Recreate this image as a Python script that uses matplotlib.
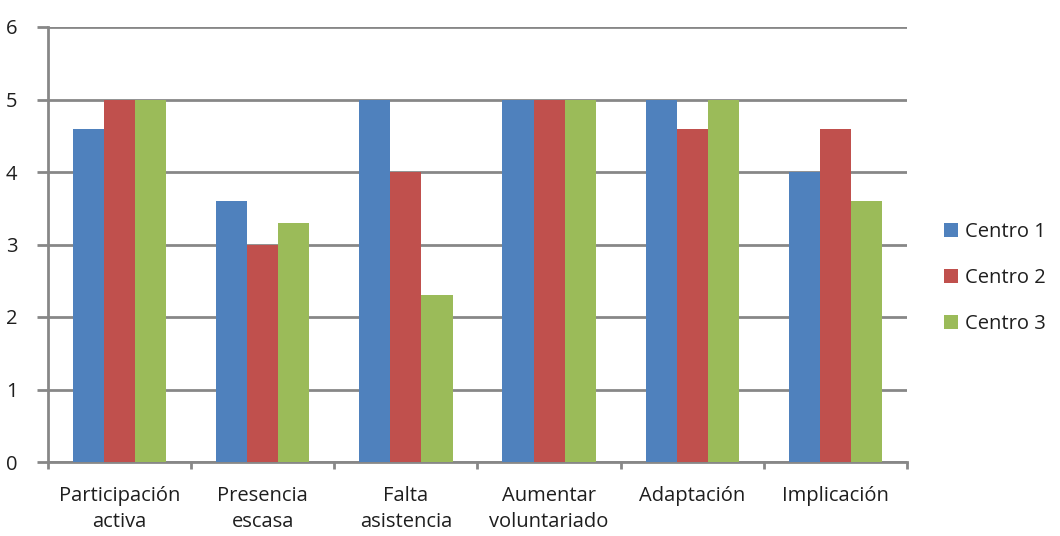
import numpy as np
import matplotlib
matplotlib.use("Agg")
import matplotlib.pyplot as plt

categories = ["Participación\nactiva", "Presencia\nescasa", "Falta\nasistencia",
              "Aumentar\nvoluntariado", "Adaptación", "Implicación"]
centro1 = [4.6, 3.6, 5.0, 5.0, 5.0, 4.0]
centro2 = [5.0, 3.0, 4.0, 5.0, 4.6, 4.6]
centro3 = [5.0, 3.3, 2.3, 5.0, 5.0, 3.6]
series = ["Centro 1", "Centro 2", "Centro 3"]
colors = ["#4F81BD", "#C0504D", "#9BBB59"]

plt.rcParams["font.family"] = ["Open Sans", "DejaVu Sans"]
txt_c = "#1e1e1e"
fs = 14.5

fig = plt.figure(figsize=(10.6, 5.36), dpi=100)
ax = fig.add_axes([48 / 1060, 1 - 462 / 536, (907 - 48) / 1060, (462 - 27) / 536])

x = np.arange(len(categories))
w = 1 / 4.6
for i, (vals, name, c) in enumerate(zip([centro1, centro2, centro3], series, colors)):
    ax.bar(x + (i - 1) * w, vals, width=w, color=c, label=name, zorder=3)

grid_c = "#878787"
ax.set_xlim(-0.5, len(categories) - 0.5)
ax.set_ylim(0, 6)
ax.set_yticks(range(7))
ax.yaxis.grid(True, color=grid_c, linewidth=2, zorder=0)
ax.set_xticks(x)
ax.set_xticklabels(categories, fontsize=fs, color=txt_c, linespacing=1.45)
ax.set_xticks(np.arange(len(categories) + 1) - 0.5, minor=True)
ax.tick_params(axis="x", which="major", length=0, pad=17)
ax.tick_params(axis="x", which="minor", length=5, width=2, color=grid_c)
ax.tick_params(axis="y", length=8, width=2, color=grid_c, labelsize=fs,
               labelcolor=txt_c, pad=14)
for s in ["top", "right"]:
    ax.spines[s].set_visible(False)
for s in ["left", "bottom"]:
    ax.spines[s].set_color(grid_c)
    ax.spines[s].set_linewidth(2)

ax.legend(loc="center left", bbox_to_anchor=(1.043, 0.423), frameon=False,
          fontsize=fs, handlelength=0.7, handleheight=0.7, handletextpad=0.35,
          labelspacing=1.3, borderaxespad=0, borderpad=0, labelcolor=txt_c)

fig.savefig("out.png", dpi=100)
